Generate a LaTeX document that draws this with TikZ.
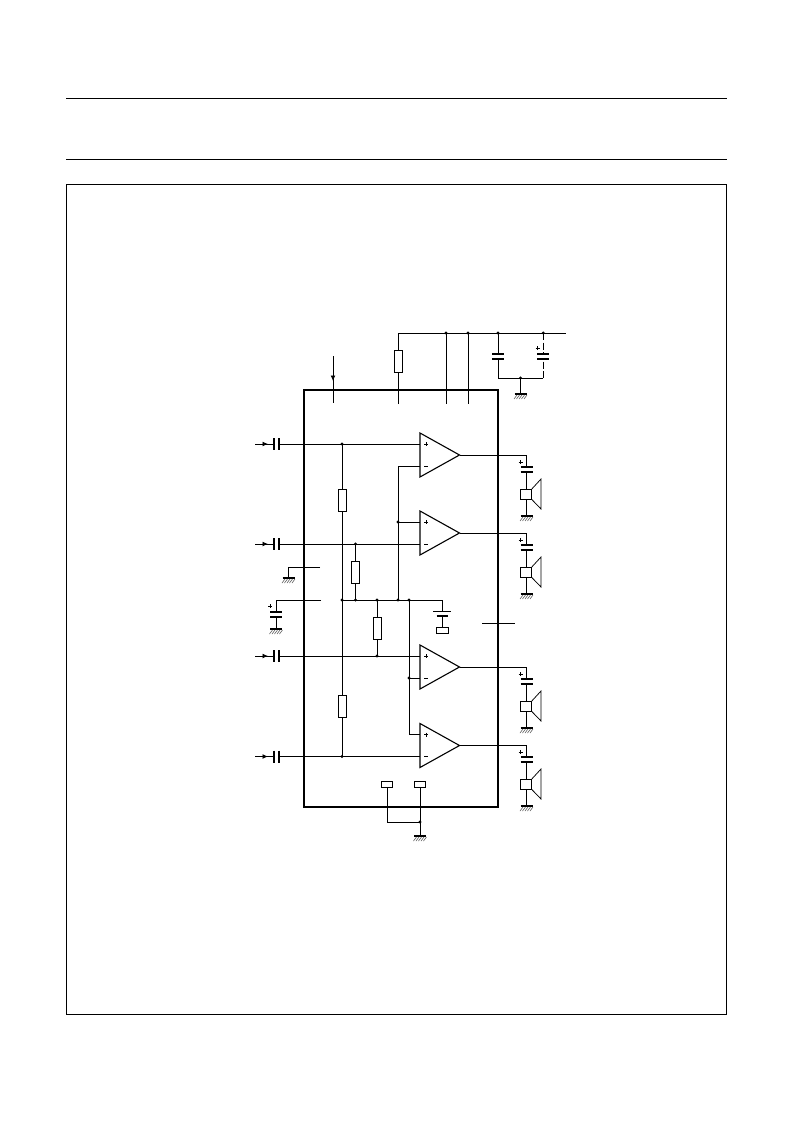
\documentclass[tikz,border=0pt]{standalone}
\usetikzlibrary{arrows.meta}
\tikzset{
  x=1pt,y=-1pt,
  wire/.style={line width=0.9pt},
  rule/.style={line width=0.8pt},
  icbox/.style={line width=2.3pt,line join=miter},
  plate/.style={line width=2pt},
  thinplate/.style={line width=0.85pt},
  res/.style={draw,fill=white,line width=0.9pt,minimum width=8pt,minimum height=22pt,inner sep=0pt,outer sep=0pt},
  hres/.style={draw,fill=white,line width=0.9pt,minimum width=11.5pt,minimum height=6pt,inner sep=0pt,outer sep=0pt},
  junction/.style={circle,fill=black,minimum size=3.2pt,inner sep=0pt,outer sep=0pt},
  signtext/.style={line width=0.8pt},
  hatchline/.style={line width=0.45pt,black!80},
}
% horizontal-plate capacitor: centre x, plate y1,y2
\newcommand{\hcap}[3]{%
  \fill[white] (#1-6,#2) rectangle (#1+6,#3);
  \draw[plate] (#1-6,#2) -- (#1+6,#2);
  \draw[plate] (#1-6,#3) -- (#1+6,#3);}
% plus sign
\newcommand{\plussign}[2]{\draw[signtext] (#1-2,#2) -- (#1+2,#2) (#1,#2-2) -- (#1,#2+2);}
% ground: x,y
\newcommand{\gnd}[2]{%
  \draw[plate] (#1-6,#2) -- (#1+6,#2);
  \foreach \q in {-5,-2.5,0,2.5,5}{\draw[hatchline] (#1+\q-1.5,#2+5) -- (#1+\q+1.5,#2+1);}}
% op amp: name, top y
\newcommand{\opamp}[2]{%
  \coordinate (#1-p) at (420,#2+11);
  \coordinate (#1-m) at (420,#2+33);
  \coordinate (#1-o) at (459.5,#2+22);
  \draw[line width=1.1pt,fill=white,line join=miter] (420,#2) -- (#1-o) -- (420,#2+44) -- cycle;
  \draw[signtext] (424,#2+11) -- (428,#2+11) (426,#2+9) -- (426,#2+13);
  \draw[signtext] (424,#2+33) -- (428,#2+33);}
% input: name, y
\newcommand{\inputline}[2]{%
  \coordinate (#1) at (255,#2);
  \draw[wire,-{Latex[length=5.5pt,width=5pt]}] (#1) -- (268,#2);
  \draw[wire] (266,#2) -- (274,#2) (279,#2) -- (304,#2);
  \draw[plate] (274,#2-6) -- (274,#2+6) (279,#2-6) -- (279,#2+6);}
% output stage: amp name, base offset from first amp
\newcommand{\outstage}[2]{%
  \coordinate (#1-g) at (526.5,516+#2);
  \draw[wire] (#1-o) -- ++(67,0) coordinate (#1-t) -- (526.5,467+#2);
  \draw[wire] (526.5,472+#2) -- (#1-g);
  \hcap{526.5}{467+#2}{472+#2}
  \plussign{520.5}{462+#2}
  \draw[line width=0.85pt,fill=white] (520.7,489+#2) rectangle (531.8,499.5+#2);
  \draw[line width=0.75pt] (531.8,489+#2) -- (541,479+#2) -- (541,509+#2) -- (531.8,499.5+#2);
  \gnd{526.5}{516+#2}}
\begin{document}
\begin{tikzpicture}
\useasboundingbox (0,0) rectangle (793,1123);
\fill[white] (0,0) rectangle (793,1123);
% page furniture
\draw[rule] (66,98) -- (727,98);
\draw[rule] (66,159) -- (727,159);
\draw[rule] (66.5,184.5) rectangle (726.5,1014.7);

% named points
\coordinate (rail) at (398,333);
\coordinate (railend) at (566,333);
\coordinate (busL) at (342,600);
\coordinate (busR) at (442,600);

% supply rail and top pins
\draw[wire] (398,404) -- (rail) -- (railend);
\draw[wire] (446,333) -- (446,404);
\draw[wire] (468,333) -- (468,404);
\node[res] (R0) at (398,361) {};
\draw[wire,-{Latex[length=5.5pt,width=5pt]}] (333,356) -- (333,381);
\draw[wire] (333,378) -- (333,403);

% decoupling caps
\draw[wire] (498,333) -- (498,378) -- (520.5,378);
\draw[wire] (520.5,378) -- (543.3,378);
\draw[wire,dash pattern=on 7pt off 2.5pt] (543.3,333) -- (543.3,378);
\hcap{498}{353.5}{358.5}
\hcap{543.3}{353.5}{358.5}
\plussign{537.5}{348}
\draw[wire] (520.5,378) -- (520.5,394);
\gnd{520.5}{394}

% left inputs
\inputline{in1}{444}
\inputline{in2}{544}
\inputline{in3}{656}
\inputline{in4}{756.5}

% opamps
\opamp{A1}{433}
\opamp{A2}{511}
\opamp{A3}{645}
\opamp{A4}{723.5}

% inner wires
\draw[wire] (304,444) -- (A1-p);
\draw[wire] (304,544) -- (A2-m);
\draw[wire] (304,656) -- (A3-p);
\draw[wire] (304,756.5) -- (A4-m);
\draw[wire] (342,444) -- (342,756.5);
\draw[wire] (355.5,544) -- (355.5,600);
\draw[wire] (377,600) -- (377,656);
\draw[wire] (A1-m) -- (398,466) -- (398,600);
\draw[wire] (398,522) -- (A2-p);
\draw[wire] (busL) -- (busR) -- (442,611);
\draw[wire] (409,600) -- (409,734.5) -- (A4-p);
\draw[wire] (409,678) -- (A3-m);
\node[res] (R1) at (342,500) {};
\node[res] (R2) at (342,706) {};
\node[res] (R3) at (355.5,572) {};
\node[res] (R4) at (377,628) {};

% reference element
\draw[thinplate] (433,611) -- (451,611);
\draw[plate] (436.5,616) -- (448,616);
\draw[wire] (442,616) -- (442,627);
\node[hres] (R5) at (442.5,630) {};

% left side pins
\coordinate (p1) at (320,567);
\coordinate (p2) at (321,600);
\draw[wire] (p1) -- (288.5,567) -- (288.5,578);
\gnd{288.5}{578}
\draw[wire] (p2) -- (276,600) -- (276,629);
\hcap{276}{612}{617}
\plussign{270}{606}
\gnd{276}{629}

% IC body
\draw[icbox] (304,390) rectangle (498,807);

% outputs
\outstage{A1}{0}
\outstage{A2}{78}
\outstage{A3}{212}
\outstage{A4}{290}

% tick
\draw[wire] (482,623) -- (515,623);

% bottom pins
\draw[wire] (387,787) -- (387,822) -- (420,822);
\draw[wire] (420,787) -- (420,836);
\node[hres] (B1) at (387,784) {};
\node[hres] (B2) at (420,784) {};
\gnd{420}{836}

% junctions
\foreach \px/\py in {446/333,468/333,498/333,543.3/333,520.5/378,342/444,355.5/544,398/522,342/600,355.5/600,377/600,398/600,409/600,377/656,409/678,342/756.5,420/822}
  {\node[junction] at (\px,\py) {};}
\end{tikzpicture}
\end{document}
